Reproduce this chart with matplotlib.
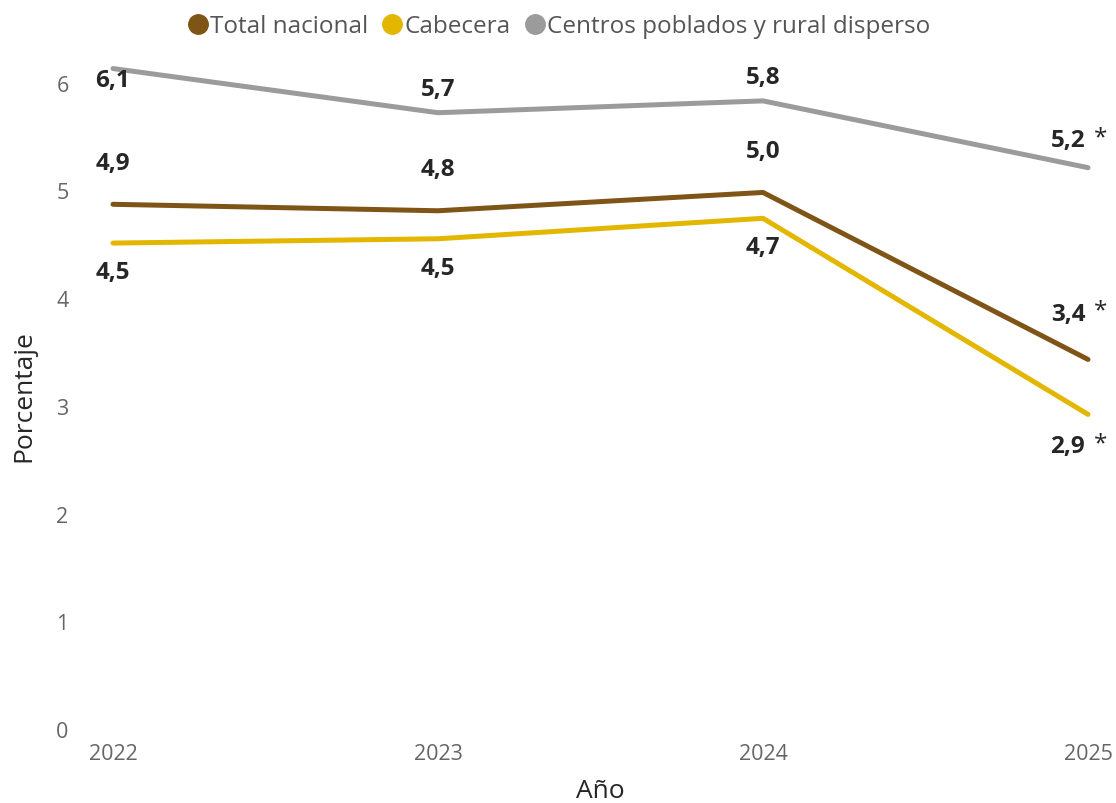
import matplotlib.pyplot as plt
from matplotlib.lines import Line2D

plt.rcParams['font.family'] = ['Open Sans', 'DejaVu Sans']

# Data
years = [2022, 2023, 2024, 2025]
series_names = ['Total nacional', 'Cabecera', 'Centros poblados y rural disperso']
total_nacional = [4.87, 4.81, 4.98, 3.43]
cabecera = [4.51, 4.55, 4.74, 2.92]
centros_poblados = [6.13, 5.72, 5.83, 5.21]
labels_total = ['4,9', '4,8', '5,0', '3,4']
labels_cabecera = ['4,5', '4,5', '4,7', '2,9']
labels_centros = ['6,1', '5,7', '5,8', '5,2']

colors = ['#7F5417', '#E3B600', '#9B9B9B']
text_dark = '#262626'
tick_grey = '#666666'

fig = plt.figure(figsize=(11.16, 8.04), dpi=100)
ax = fig.add_axes([113 / 1116, 74 / 804, 975 / 1116, 668 / 804])

series = [total_nacional, cabecera, centros_poblados]
all_labels = [labels_total, labels_cabecera, labels_centros]
# vertical offset of the value labels (points): brown above, yellow below, grey above
dy = [30, -21, 17]

for vals, lab, col, off in zip(series, all_labels, colors, dy):
    ax.plot(years, vals, color=col, lw=3.6, solid_capstyle='round', clip_on=False, zorder=3)
    for i, (x, y, t) in enumerate(zip(years, vals, lab)):
        d = off
        if col == colors[2] and i == 0:
            d = -8  # top-left label sits on the line
        if i == len(years) - 1:
            # last year: value plus a regular-weight asterisk
            d = off + (3 if off > 0 else -2)
            ax.annotate(t, (x, y), xytext=(-2, d), textcoords='offset points',
                        ha='right', va='center', fontsize=17.5, fontweight='bold',
                        color=text_dark, zorder=4, annotation_clip=False)
            ax.annotate('*', (x, y), xytext=(4, d + 2), textcoords='offset points',
                        ha='left', va='center', fontsize=17.5, color=text_dark, zorder=4,
                        annotation_clip=False)
            continue
        ax.annotate(t, (x, y), xytext=(0, d), textcoords='offset points',
                    ha='center', va='center', fontsize=17.5, fontweight='bold',
                    color=text_dark, zorder=4)

ax.set_xlim(2022, 2025)
ax.set_ylim(0, 6.2)
ax.set_xticks(years)
ax.set_xticklabels([str(y) for y in years])
ax.set_yticks(range(0, 7))
ax.tick_params(axis='both', length=0, labelsize=15.5, labelcolor=tick_grey)
ax.tick_params(axis='y', pad=32)
ax.tick_params(axis='x', pad=10)
for s in ax.spines.values():
    s.set_visible(False)

ax.set_ylabel('Porcentaje', fontsize=19, color=text_dark, labelpad=14)
ax.set_xlabel('Año', fontsize=19, color=text_dark, labelpad=10)

handles = [Line2D([], [], marker='o', linestyle='none', markersize=14,
                  markerfacecolor=c, markeredgecolor=c) for c in colors]
fig.legend(handles, series_names, loc='upper center', bbox_to_anchor=(0.5, 1.008),
           ncol=3, frameon=False, fontsize=17.5, handletextpad=0.0, columnspacing=0.5,
           handlelength=1.0, labelcolor='#555555')

fig.savefig('out.png', dpi=100, facecolor='white')
